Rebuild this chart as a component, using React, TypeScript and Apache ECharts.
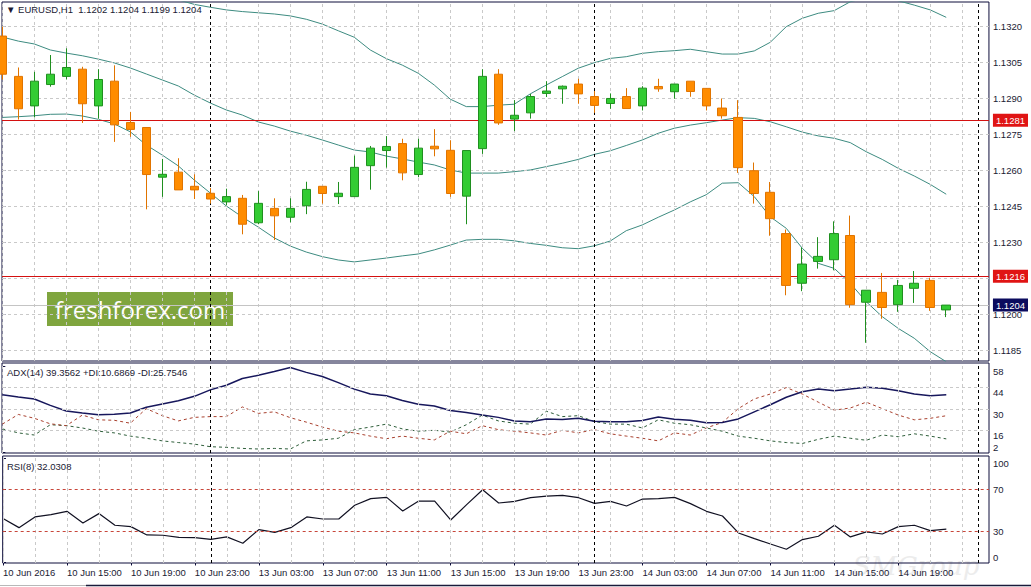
import React, { useEffect, useRef } from "react";
import * as echarts from "echarts";

// ---------- data ----------
const open = [
  1.13161, 1.12993, 1.1287, 1.12959, 1.12993, 1.13023, 1.1287, 1.12973, 1.12801, 1.1278,
  1.12573, 1.12594, 1.12535, 1.12506, 1.1247, 1.12485, 1.12383, 1.12443, 1.12406, 1.12454,
  1.12535, 1.12492, 1.12492, 1.12621, 1.12684, 1.12713, 1.12584, 1.12702, 1.12685, 1.12494,
  1.12692, 1.13002, 1.12815, 1.12841, 1.12922, 1.12941, 1.12961, 1.12909, 1.1288, 1.12909,
  1.1287, 1.12951, 1.12929, 1.12973, 1.12943, 1.12861, 1.12822, 1.126, 1.1251, 1.12338,
  1.12131, 1.12222, 1.12229, 1.1233, 1.12052, 1.12093, 1.12042, 1.1211, 1.12143, 1.1202,
];
const high = [
  1.132, 1.1303, 1.13012, 1.13082, 1.1311, 1.13033, 1.13023, 1.13039, 1.12845, 1.1278,
  1.12649, 1.12652, 1.12585, 1.12528, 1.12525, 1.12499, 1.12515, 1.12485, 1.12485, 1.12554,
  1.12535, 1.12553, 1.12663, 1.12703, 1.12744, 1.12733, 1.12733, 1.12773, 1.12727, 1.12684,
  1.13023, 1.13023, 1.12894, 1.1292, 1.12973, 1.12955, 1.12983, 1.12932, 1.12922, 1.12944,
  1.12952, 1.12983, 1.12961, 1.12973, 1.12943, 1.12901, 1.12894, 1.12634, 1.12553, 1.12355,
  1.1228, 1.12323, 1.12389, 1.12413, 1.12102, 1.12174, 1.12145, 1.12182, 1.12154, 1.1204,
];
const low = [
  1.1298, 1.12813, 1.12822, 1.1295, 1.1298, 1.12799, 1.12817, 1.1272, 1.12741, 1.12439,
  1.12491, 1.1252, 1.12482, 1.12463, 1.12456, 1.12335, 1.12377, 1.12311, 1.12385, 1.12419,
  1.12463, 1.12461, 1.12492, 1.12521, 1.12613, 1.1256, 1.12573, 1.1266, 1.12491, 1.12377,
  1.1267, 1.12791, 1.12765, 1.12817, 1.12907, 1.12879, 1.12879, 1.12841, 1.12858, 1.12859,
  1.12851, 1.12929, 1.129, 1.12908, 1.12851, 1.12817, 1.12591, 1.12463, 1.12329, 1.12081,
  1.12098, 1.12192, 1.12185, 1.12029, 1.11883, 1.11983, 1.12012, 1.12049, 1.12016, 1.1199,
];
const close = [
  1.13002, 1.12858, 1.12973, 1.13002, 1.1303, 1.12879, 1.1298, 1.12791, 1.12772, 1.12584,
  1.12585, 1.1252, 1.1252, 1.12482, 1.12492, 1.12377, 1.12464, 1.12412, 1.12443, 1.12522,
  1.12505, 1.12506, 1.12614, 1.12694, 1.12701, 1.12591, 1.12694, 1.12691, 1.12505, 1.12684,
  1.12993, 1.12799, 1.12831, 1.12909, 1.12932, 1.12952, 1.1292, 1.12872, 1.12901, 1.12859,
  1.12944, 1.12941, 1.12961, 1.1293, 1.1287, 1.12829, 1.12613, 1.12505, 1.124, 1.12122,
  1.12211, 1.12243, 1.12338, 1.12042, 1.12102, 1.1203, 1.12122, 1.12131, 1.1203, 1.1204,
];
const bbUpper = [
  null, null, null, null, null, null, null, null, null, null,
  null, 1.13312, 1.13293, 1.13281, 1.1327, 1.13263, 1.13258, 1.13253, 1.13245, 1.13231,
  1.13211, 1.13183, 1.13156, 1.13103, 1.13067, 1.1304, 1.13006, 1.12957, 1.12898, 1.12867,
  1.12867, 1.12873, 1.12877, 1.1292, 1.12957, 1.12992, 1.13027, 1.1305, 1.13068, 1.13075,
  1.13089, 1.13096, 1.131, 1.13106, 1.13096, 1.13086, 1.13086, 1.13099, 1.13135, 1.132,
  1.13235, 1.13256, 1.13267, 1.13304, 1.1332, 1.13325, 1.13308, 1.1329, 1.1327, 1.13239,
];
const bbMiddle = [
  1.13157, 1.1314, 1.13128, 1.13103, 1.1309, 1.13079, 1.13065, 1.13049, 1.13028, 1.13003,
  1.12978, 1.12953, 1.12915, 1.12882, 1.12853, 1.12832, 1.12803, 1.12786, 1.12765, 1.12748,
  1.12728, 1.12707, 1.12686, 1.12678, 1.12661, 1.12649, 1.12636, 1.12624, 1.12603, 1.1259,
  1.1259, 1.1259, 1.12596, 1.12603, 1.12617, 1.12631, 1.12647, 1.12668, 1.12683, 1.12705,
  1.12728, 1.12756, 1.12777, 1.1279, 1.128, 1.12811, 1.12821, 1.12818, 1.12804, 1.12783,
  1.12761, 1.12745, 1.12735, 1.12717, 1.12679, 1.12647, 1.1261, 1.12578, 1.12543, 1.12502,
];
const bbLower = [
  1.12822, 1.12825, 1.12829, 1.12835, 1.12836, 1.12828, 1.12814, 1.12795, 1.12762, 1.12707,
  1.12665, 1.1262, 1.12561, 1.12507, 1.12453, 1.12407, 1.12365, 1.1232, 1.12286, 1.12261,
  1.12242, 1.12228, 1.1222, 1.12228, 1.12236, 1.12245, 1.12253, 1.1227, 1.1229, 1.12311,
  1.12314, 1.12314, 1.12308, 1.12297, 1.12289, 1.12279, 1.12275, 1.12287, 1.12307, 1.1235,
  1.12374, 1.12406, 1.12436, 1.1247, 1.125, 1.12548, 1.1255, 1.12492, 1.12408, 1.1236,
  1.12277, 1.12214, 1.12193, 1.12131, 1.12054, 1.11992, 1.11943, 1.11902, 1.11846, 1.11804,
];
const adx = [
  39.5, 38.0, 36.7, 32.5, 28.9, 27.5, 26.4, 26.8, 27.5, 31.3,
  33.4, 35.5, 38.4, 42.6, 45.6, 50.0, 52.1, 54.6, 57.2, 54.0,
  51.3, 47.3, 43.1, 39.9, 38.8, 35.7, 33.2, 32.1, 29.2, 27.9,
  26.2, 24.7, 22.4, 21.8, 23.7, 23.3, 24.1, 22.2, 21.8, 21.8,
  22.6, 24.9, 23.5, 22.8, 21.2, 21.4, 23.7, 28.3, 32.9, 37.8,
  41.4, 43.1, 42.0, 43.1, 44.3, 43.7, 42.0, 39.9, 38.8, 39.3562,
];
const plusDI = [
  17.2, 14.6, 13.2, 19.9, 19.3, 17.8, 15.7, 14.6, 12.5, 11.1,
  9.4, 8.3, 7.3, 5.6, 5.2, 4.5, 4.1, 4.5, 4.1, 9.4,
  10.0, 11.1, 16.7, 18.4, 20.3, 17.2, 15.7, 16.3, 15.1, 19.9,
  26.2, 22.4, 20.9, 20.3, 28.7, 25.2, 25.8, 22.0, 20.3, 20.3,
  17.8, 23.1, 20.9, 19.9, 17.8, 15.7, 12.5, 11.1, 9.4, 8.3,
  7.7, 10.4, 12.5, 11.1, 9.8, 13.2, 12.1, 14.0, 12.5, 10.6869,
];
const minusDI = [
  20.3, 26.6, 24.1, 20.5, 19.3, 26.2, 23.1, 22.8, 20.9, 30.4,
  25.8, 22.4, 24.7, 25.2, 25.2, 31.5, 27.3, 28.3, 24.5, 21.6,
  18.4, 15.7, 14.6, 12.5, 10.8, 12.5, 11.1, 10.0, 15.7, 14.0,
  19.3, 16.7, 15.7, 14.6, 13.2, 16.3, 14.6, 16.7, 14.0, 12.5,
  11.1, 9.4, 14.6, 13.2, 17.8, 21.4, 30.4, 36.7, 39.9, 44.1,
  39.9, 34.6, 29.4, 30.8, 34.6, 30.4, 26.2, 23.1, 24.1, 25.7546,
];
const rsi = [
  42.2, 33.5, 43.8, 46.0, 49.2, 38.0, 47.0, 35.8, 34.5, 26.5,
  26.2, 24.2, 23.9, 22.3, 24.6, 18.5, 31.6, 29.0, 33.5, 43.8,
  41.8, 41.8, 55.0, 61.4, 62.6, 49.5, 59.1, 59.1, 40.9, 55.6,
  70.0, 57.2, 58.8, 62.3, 63.9, 64.6, 62.3, 56.9, 58.8, 54.3,
  61.0, 61.4, 62.6, 56.6, 49.2, 44.7, 28.4, 23.0, 17.8, 12.7,
  22.0, 25.2, 35.8, 24.6, 29.4, 27.4, 34.5, 35.8, 30.6, 32.0308,
];
const timeLabels = [
  "10 Jun 2016", "10 Jun 15:00", "10 Jun 19:00", "10 Jun 23:00", "13 Jun 03:00",
  "13 Jun 07:00", "13 Jun 11:00", "13 Jun 15:00", "13 Jun 19:00", "13 Jun 23:00",
  "14 Jun 03:00", "14 Jun 07:00", "14 Jun 11:00", "14 Jun 15:00", "14 Jun 19:00",
];
const timeLabelIndex = [0, 4, 8, 12, 16, 20, 24, 28, 32, 36, 40, 44, 48, 52, 56];
const daySeparators = [13, 37, 61];
const priceTicks = [1.1185, 1.12, 1.1215, 1.123, 1.1245, 1.126, 1.1275, 1.129, 1.1305, 1.132];
const priceLabels = [1.1185, 1.12, 1.123, 1.1245, 1.126, 1.1275, 1.129, 1.1305, 1.132];
const levelLines = [1.1281, 1.1216];
const bidPrice = 1.1204;
const adxTicks = [2, 16, 30, 44, 58];
const adxGrid = [16, 30, 44];
const rsiTicks = [0, 30, 70, 100];
const rsiLevels = [30, 70];

// ---------- layout / style ----------
const FONT = "'Liberation Sans', Arial, sans-serif";
const TXT = "#1a1a33";
const BORDER = "#0c0c3a";
const GRIDC = "#c9c9c9";
const X_MIN = -0.02;
const X_MAX = 61.67;
const PRICE_MIN = 1.118071;
const PRICE_MAX = 1.133029;
const ADX_MIN = 1.5;
const ADX_MAX = 60.1;
const RSI_MIN = -0.5;
const RSI_MAX = 102.4;
const FS = 9.5;

const vGrid: number[] = [];
for (let i = 0; i <= 60; i += 2) vGrid.push(i);

const fmt4 = (v: number) => v.toFixed(4);

function xAxisFor(gridIndex: number, bottom: boolean) {
  return {
    type: "value",
    gridIndex,
    min: X_MIN,
    max: X_MAX,
    axisLine: { show: false },
    splitLine: { show: false },
    axisTick: bottom
      ? { show: true, customValues: timeLabelIndex, length: 3, lineStyle: { color: BORDER } }
      : { show: false },
    axisLabel: bottom
      ? {
          show: true,
          customValues: timeLabelIndex,
          formatter: (v: number) => timeLabels[timeLabelIndex.indexOf(Math.round(v))] || "",
          align: "left",
          margin: 4,
          fontSize: FS,
          fontFamily: FONT,
          color: TXT,
        }
      : { show: false },
  };
}

function markerSeries(xIdx: number, yIdx: number, z: number, items: any[], baseStyle?: any) {
  return {
    type: "line",
    xAxisIndex: xIdx,
    yAxisIndex: yIdx,
    data: [],
    z,
    silent: true,
    markLine: {
      silent: true,
      precision: 6,
      symbol: ["none", "none"],
      label: { show: false },
      emphasis: { disabled: true },
      lineStyle: baseStyle,
      data: items,
    },
  };
}

const gridStyle = { color: GRIDC, type: [3, 3], width: 1 };
const sepStyle = { color: "#000000", type: [3, 3], width: 1 };
const rsiLevelStyle = { color: "#c8463a", type: [3, 3], width: 1 };

function buildOption() {
  const vLines = vGrid.map((i) => ({ xAxis: i, lineStyle: gridStyle }));
  const seps = daySeparators.map((i) => ({ xAxis: i, lineStyle: sepStyle }));
  const last = open.length - 1;

  const lineSeries = (name: string, xIdx: number, yIdx: number, arr: (number | null)[], style: any, z = 4) => ({
    name,
    type: "line",
    xAxisIndex: xIdx,
    yAxisIndex: yIdx,
    data: arr.map((v, i) => [i, v]),
    showSymbol: false,
    symbol: "none",
    connectNulls: false,
    lineStyle: style,
    silent: true,
    z,
  });

  const rsiSeries: any = lineSeries("RSI", 2, 2, rsi, { color: "#111122", width: 1.2 });
  rsiSeries.markLine = {
    silent: true,
    precision: 4,
    symbol: ["none", "none"],
    label: { show: false },
    emphasis: { disabled: true },
    lineStyle: rsiLevelStyle,
    data: rsiLevels.map((v) => ({ yAxis: v, lineStyle: rsiLevelStyle })),
  };

  return {
    animation: false,
    backgroundColor: "#ffffff",
    textStyle: { fontFamily: FONT },
    title: [
      {
        text: `\u25BC EURUSD,H1  ${fmt4(open[last])} ${fmt4(high[last])} ${fmt4(low[last])} ${fmt4(close[last])}`,
        left: 6,
        top: 4,
        padding: 0,
        textStyle: { fontSize: FS, fontWeight: "normal", color: TXT, fontFamily: FONT },
      },
      {
        text: `ADX(14) ${adx[last].toFixed(4)} +DI:${plusDI[last].toFixed(4)} -DI:${minusDI[last].toFixed(4)}`,
        left: 7,
        top: 367,
        padding: 0,
        textStyle: { fontSize: FS, fontWeight: "normal", color: TXT, fontFamily: FONT },
      },
      {
        text: `RSI(8) ${rsi[last].toFixed(4)}`,
        left: 7,
        top: 461,
        padding: 0,
        textStyle: { fontSize: FS, fontWeight: "normal", color: TXT, fontFamily: FONT },
      },
    ],
    grid: [
      { left: 2, top: 2, width: 987, height: 359, show: true, borderColor: BORDER, borderWidth: 1, backgroundColor: "transparent" },
      { left: 2, top: 363, width: 987, height: 90, show: true, borderColor: BORDER, borderWidth: 1, backgroundColor: "transparent" },
      { left: 2, top: 456, width: 987, height: 107, show: true, borderColor: BORDER, borderWidth: 1, backgroundColor: "transparent" },
    ],
    xAxis: [xAxisFor(0, false), xAxisFor(1, false), xAxisFor(2, true)],
    yAxis: [
      {
        type: "value",
        gridIndex: 0,
        position: "right",
        min: PRICE_MIN,
        max: PRICE_MAX,
        axisLine: { show: false },
        splitLine: { show: false },
        axisTick: { show: true, customValues: priceTicks, length: 3, lineStyle: { color: BORDER } },
        axisLabel: {
          show: true,
          customValues: [...priceLabels, ...levelLines, bidPrice],
          margin: 4,
          fontSize: FS,
          fontFamily: FONT,
          color: TXT,
          formatter: (v: number) => {
            const s = fmt4(v);
            if (levelLines.some((l) => Math.abs(l - v) < 1e-7)) return `{red|${s}}`;
            if (Math.abs(bidPrice - v) < 1e-7) return `{bid|${s}}`;
            return s;
          },
          rich: {
            red: { color: "#ffffff", backgroundColor: "#e01414", padding: [2, 3, 1, 3], fontSize: FS, fontFamily: FONT },
            bid: { color: "#ffffff", backgroundColor: "#0b0b5e", padding: [2, 3, 1, 3], fontSize: FS, fontFamily: FONT },
          },
        },
      },
      {
        type: "value",
        gridIndex: 1,
        position: "right",
        min: ADX_MIN,
        max: ADX_MAX,
        axisLine: { show: false },
        splitLine: { show: false },
        axisTick: { show: true, customValues: adxTicks, length: 3, lineStyle: { color: BORDER } },
        axisLabel: {
          show: true,
          customValues: adxTicks,
          verticalAlign: "top",
          verticalAlignMinLabel: "bottom",
          margin: 4,
          fontSize: FS,
          fontFamily: FONT,
          color: TXT,
        },
      },
      {
        type: "value",
        gridIndex: 2,
        position: "right",
        min: RSI_MIN,
        max: RSI_MAX,
        axisLine: { show: false },
        splitLine: { show: false },
        axisTick: { show: true, customValues: rsiTicks, length: 3, lineStyle: { color: BORDER } },
        axisLabel: {
          show: true,
          customValues: rsiTicks,
          verticalAlign: "middle",
          verticalAlignMinLabel: "bottom",
          verticalAlignMaxLabel: "top",
          margin: 4,
          fontSize: FS,
          fontFamily: FONT,
          color: TXT,
        },
      },
    ],
    series: [
      // background grids
      markerSeries(0, 0, 1, [
        ...priceTicks.map((v) => ({ yAxis: v, lineStyle: gridStyle })),
        ...vLines,
        { yAxis: bidPrice, lineStyle: { color: "#c4c4c4", type: "solid", width: 1 } },
        ...seps,
      ]),
      markerSeries(1, 1, 1, [...adxGrid.map((v) => ({ yAxis: v, lineStyle: gridStyle })), ...vLines, ...seps]),
      markerSeries(2, 2, 1, [...vLines, ...seps]),
      // Bollinger bands
      lineSeries("BB upper", 0, 0, bbUpper, { color: "#3d8b80", width: 1 }),
      lineSeries("BB middle", 0, 0, bbMiddle, { color: "#3d8b80", width: 1 }),
      lineSeries("BB lower", 0, 0, bbLower, { color: "#3d8b80", width: 1 }),
      // candles
      {
        name: "EURUSD",
        type: "candlestick",
        xAxisIndex: 0,
        yAxisIndex: 0,
        data: open.map((o, i) => [i, o, close[i], low[i], high[i]]),
        barWidth: 9,
        silent: true,
        z: 5,
        itemStyle: {
          color: "#33cc33",
          color0: "#ff8c00",
          borderColor: "#1f8f1f",
          borderColor0: "#e07400",
          borderWidth: 1,
        },
      },
      // horizontal level lines (on top)
      markerSeries(0, 0, 6, levelLines.map((v) => ({ yAxis: v })), { color: "#d41010", type: "solid", width: 1 }),
      // ADX panel
      lineSeries("+DI", 1, 1, plusDI, { color: "#2e5e3a", width: 1, type: [3, 3] }),
      lineSeries("-DI", 1, 1, minusDI, { color: "#a8402e", width: 1, type: [3, 3] }),
      lineSeries("ADX", 1, 1, adx, { color: "#17175c", width: 1.5 }),
      // RSI panel (with its 30/70 levels)
      rsiSeries,
    ],
    graphic: [
      {
        type: "group",
        z: 100,
        children: [
          { type: "rect", shape: { x: 47, y: 292, width: 186, height: 34 }, style: { fill: "#7fa53e" } },
          {
            type: "text",
            x: 140,
            y: 309,
            style: {
              text: "freshforex.com",
              fill: "#ffffff",
              font: "24px 'Open Sans', sans-serif",
              textAlign: "center",
              textVerticalAlign: "middle",
            },
          },
        ],
      },
      {
        type: "text",
        z: -1,
        x: 916,
        y: 566,
        silent: true,
        style: {
          text: "SMGroup",
          fill: "#ececec",
          font: "italic 26px 'DejaVu Serif', serif",
          textAlign: "center",
          textVerticalAlign: "middle",
        },
      },
      { type: "line", shape: { x1: 0, y1: 585.5, x2: 86, y2: 585.5 }, style: { stroke: "#b8b8b8", lineWidth: 1 } },
      { type: "line", shape: { x1: 86, y1: 585.5, x2: 1031, y2: 585.5 }, style: { stroke: "#1a1a3a", lineWidth: 1.5 } },
    ],
  };
}

export default function App() {
  const ref = useRef<HTMLDivElement>(null);
  useEffect(() => {
    document.body.style.margin = "0";
    if (!ref.current) return;
    const chart = echarts.init(ref.current, undefined, { renderer: "svg" });
    chart.setOption(buildOption() as any);
    return () => chart.dispose();
  }, []);
  return <div ref={ref} style={{ width: 1031, height: 587 }} />;
}
